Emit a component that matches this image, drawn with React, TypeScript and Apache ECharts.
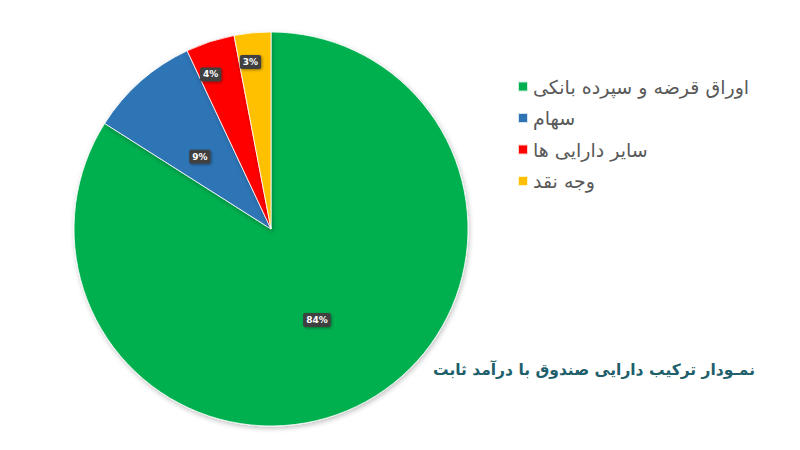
import React, { useEffect, useRef } from "react";
import * as echarts from "echarts";

const categories = ["اوراق قرضه و سپرده بانکی", "سهام", "سایر دارایی ها", "وجه نقد"];
const values = [84, 9, 4, 3];
const colors = ["#00b050", "#2e75b6", "#ff0000", "#ffc000"];
const labelOffsets: [number, number][] = [[-3, 2], [-4, 4], [-29, -58], [-11, -66]];
const titleText = "نمـودار ترکیب دارایی صندوق با درآمد ثابت";

export default function App() {
  const ref = useRef<HTMLDivElement>(null);
  useEffect(() => {
    document.body.style.margin = "0";
    const chart = echarts.init(ref.current!, null, { renderer: "svg" });
    chart.setOption({
      animation: false,
      backgroundColor: "#ffffff",
      title: {
        text: titleText,
        right: 40,
        top: 357,
        textStyle: {
          fontFamily: "DejaVu Sans, Noto Sans",
          fontWeight: "bold",
          fontSize: 15.5,
          color: "#1f5f6b",
        },
      },
      legend: {
        orient: "vertical",
        left: 512,
        top: 72,
        itemWidth: 10,
        itemHeight: 10,
        itemGap: 12.5,
        icon: "rect",
        data: categories,
        textStyle: {
          fontFamily: "DejaVu Sans, Noto Sans",
          fontSize: 19,
          color: "#595959",
          padding: [0, 0, 0, 0],
        },
      },
      series: [
        {
          type: "pie",
          center: [271, 229],
          radius: 197,
          startAngle: 90,
          clockwise: true,
          data: categories.map((name, i) => ({
            name,
            value: values[i],
            itemStyle: { color: colors[i] },
            label: { offset: labelOffsets[i] },
          })),
          itemStyle: {
            borderColor: "rgba(255,255,255,0.8)",
            borderWidth: 1,
            shadowBlur: 5,
            shadowOffsetX: 1,
            shadowOffsetY: 2,
            shadowColor: "rgba(0,0,0,0.25)",
          },
          label: {
            show: true,
            position: "inside",
            formatter: (p: any) => p.value + "%",
            fontFamily: "DejaVu Sans",
            fontSize: 9,
            fontWeight: "bold",
            color: "#ffffff",
            backgroundColor: "#404040",
            padding: [3, 3, 2, 3],
            borderRadius: 2,
            shadowBlur: 3,
            shadowColor: "rgba(0,0,0,0.4)",
            shadowOffsetX: 1,
            shadowOffsetY: 1,
          },
          labelLine: { show: false },
          emphasis: { disabled: true },
        },
      ],
    });
    return () => chart.dispose();
  }, []);
  return <div ref={ref} style={{ width: 800, height: 450, position: "fixed", left: 0, top: 0 }} />;
}
